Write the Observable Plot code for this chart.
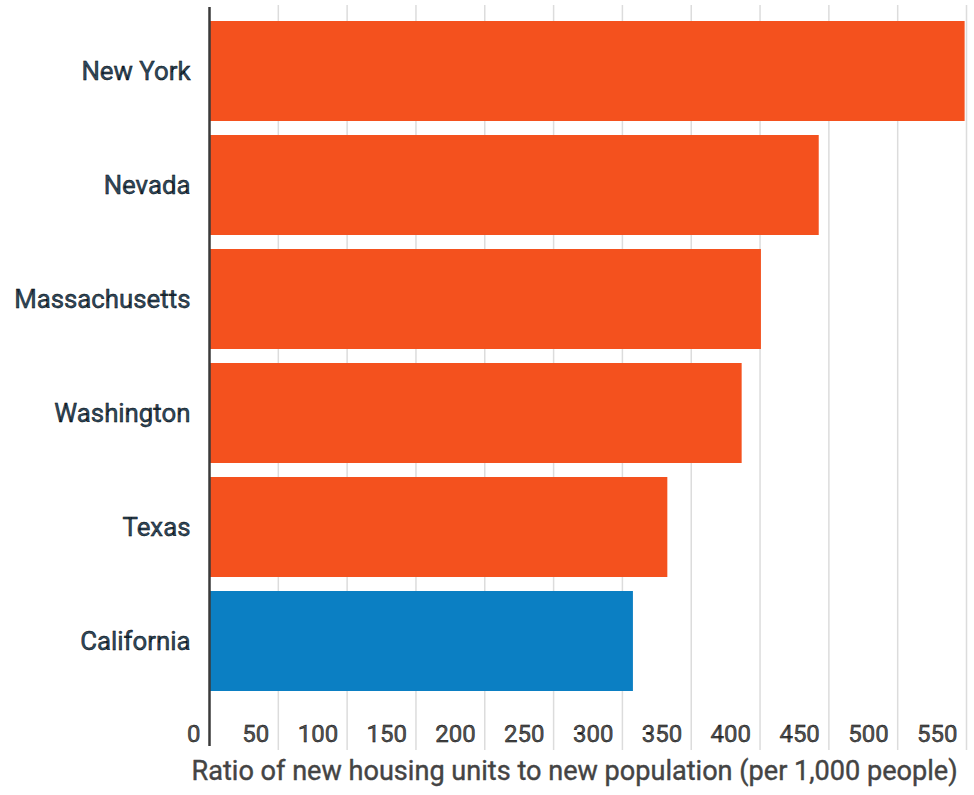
<!DOCTYPE html>
<html>
<head>
<meta charset="utf-8">
<script src="https://cdn.jsdelivr.net/npm/d3@7"></script>
<script src="https://cdn.jsdelivr.net/npm/@observablehq/plot@0.6"></script>
<style>
  html, body { margin: 0; padding: 0; background: #fff; overflow: hidden; }
  #chart { width: 974px; height: 795px; overflow: hidden; }
  svg { overflow: hidden; }
  .lbl text { stroke: currentColor; stroke-width: 0.45px; paint-order: fill; }
</style>
</head>
<body>
<div id="chart"></div>
<script>
const states = ["New York", "Nevada", "Massachusetts", "Washington", "Texas", "California"];
const ratios = [549, 443, 401, 387, 333, 308];
const highlight = "California";
const xTicks = [0, 50, 100, 150, 200, 250, 300, 350, 400, 450, 500, 550];
const xTitle = "Ratio of new housing units to new population (per 1,000 people)";

const data = states.map((s, i) => ({state: s, value: ratios[i]}));
const ORANGE = "#f4511e";
const BLUE = "#0b7fc3";

const chart = Plot.plot({
  width: 974,
  height: 795,
  marginLeft: 209,
  marginRight: 8,
  marginTop: 13,
  marginBottom: 95,
  style: {fontFamily: "Roboto, 'Noto Sans', sans-serif", background: "#fff"},
  x: {domain: [0, 550], axis: null},
  y: {domain: states, paddingInner: 0.12, paddingOuter: 0.06, axis: null},
  marks: [
    Plot.ruleX(xTicks.filter(d => d > 0), {stroke: "#dcdcdc", strokeWidth: 1.5, insetTop: -8, insetBottom: -50}),
    Plot.barX(data, {
      x: "value", y: "state",
      fill: d => d.state === highlight ? BLUE : ORANGE
    }),
    Plot.ruleX([0], {stroke: "#3a3a3a", strokeWidth: 2.5, insetTop: -6, insetBottom: -46}),
    Plot.axisY({tickSize: 0, tickPadding: 19, fontSize: 25.8, color: "#2f4a5e", label: null, className: "lbl"}),
    Plot.axisX({ticks: xTicks, tickSize: 0, tickPadding: 0, textAnchor: "end", dx: -9, dy: 24, fontSize: 24, color: "#555", label: null, className: "lbl"}),
    Plot.text([xTitle], {frameAnchor: "bottom-left", text: d => d, dx: -18, dy: 79, textAnchor: "start", fontSize: 27.1, fill: "#444", stroke: "#444", strokeWidth: 0.4})
  ]
});
document.getElementById("chart").appendChild(chart);
</script>
</body>
</html>
